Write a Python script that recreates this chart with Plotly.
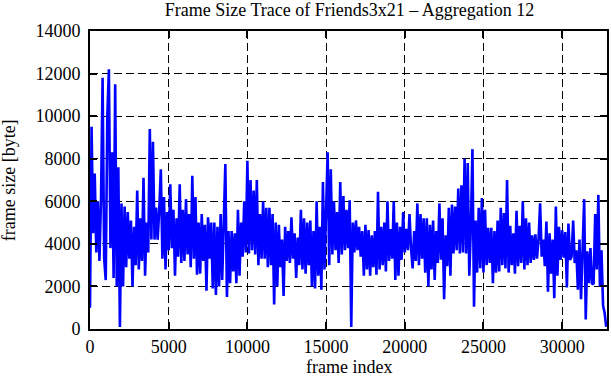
import plotly.graph_objects as go

# Frame size trace (Friends 3x21, aggregation 12)
# one value per 100 frames
frame_step = 100
sizes = [
    # 0-1000
    1000, 9500, 4500, 7300, 3600, 6000, 3200, 6100, 11800, 3300,
    # 1000-2000
    2300, 10000, 12200, 3800, 8300, 2400, 11500, 2000, 7600, 100,
    # 2000-3000
    5900, 2000, 5750, 2900, 5500, 3300, 5100, 2000, 4800, 3000,
    # 3000-4000
    6500, 2800, 5200, 3200, 7100, 2500, 5000, 3600, 9400, 4200,
    # 4000-5000
    8800, 4200, 5700, 4200, 5600, 7500, 3300, 6200, 2800, 5500,
    # 5000-6000
    3700, 6800, 3800, 5600, 2500, 5200, 3400, 6800, 3100, 5600,
    # 6000-7000
    3200, 6100, 3500, 5400, 2900, 7200, 3300, 6200, 2550, 5000,
    # 7000-8000
    2600, 5400, 3200, 4900, 1800, 5250, 3300, 5000, 1900, 5000,
    # 8000-9000
    1600, 4800, 2000, 5400, 2300, 4700, 7750, 1500, 4600, 2150,
    # 9000-10000
    4600, 2700, 4500, 2150, 5600, 2500, 5000, 3400, 6000, 3600,
    # 10000-11000
    7900, 3550, 7000, 3700, 6500, 3500, 7000, 3000, 5400, 3300,
    # 11000-12000
    6000, 3300, 5700, 2900, 5700, 3000, 5400, 1150, 5000, 2000,
    # 12000-13000
    4900, 2900, 4200, 1550, 4800, 3200, 4600, 3100, 5250, 3300,
    # 13000-14000
    4500, 2400, 4300, 3000, 5600, 2800, 5200, 2600, 5000, 3000,
    # 14000-15000
    5100, 2000, 4600, 1900, 6000, 2500, 4800, 1850, 6900, 2800,
    # 15000-16000
    6000, 8300, 3000, 7500, 3500, 6000, 3700, 5500, 3100, 6900,
    # 16000-17000
    3500, 6250, 3700, 5600, 3800, 6050, 100, 5000, 3600, 5100,
    # 17000-18000
    3700, 4800, 3400, 4600, 2500, 4900, 2800, 4650, 2500, 4400,
    # 18000-19000
    2900, 4600, 2550, 6450, 2800, 4800, 3000, 5000, 2700, 6000,
    # 19000-20000
    3200, 4700, 3300, 6000, 2300, 5000, 2500, 4800, 3250, 5500,
    # 20000-21000
    3600, 4700, 3700, 5400, 3800, 2850, 4600, 3200, 5900, 3000,
    # 21000-22000
    5400, 3300, 5200, 2650, 5200, 2000, 4900, 2800, 5100, 2300,
    # 22000-23000
    4600, 3100, 5900, 3250, 5200, 1400, 4400, 2950, 5700, 2500,
    # 23000-24000
    5850, 3550, 5750, 3700, 6600, 3550, 6750, 3600, 8000, 3550,
    # 24000-25000
    7800, 2500, 4800, 8450, 1050, 5100, 2650, 5700, 2850, 6150,
    # 25000-26000
    2650, 5600, 3000, 4750, 3100, 4750, 2150, 4600, 2650, 5100,
    # 26000-27000
    2700, 5700, 3000, 5450, 2850, 7000, 2650, 4850, 3000, 4500,
    # 27000-28000
    2600, 5550, 2950, 4850, 3100, 6000, 2800, 5200, 3000, 5000,
    # 28000-29000
    3100, 4400, 3250, 4450, 3300, 4200, 5900, 3400, 4200, 2950,
    # 29000-30000
    5050, 1750, 4500, 2600, 4200, 1450, 5750, 2500, 4800, 3250,
    # 30000-31000
    4650, 3350, 4550, 1950, 4950, 3250, 3400, 5100, 3100, 3700,
    # 31000-32000
    1850, 4200, 1400, 3800, 6100, 450, 3650, 2150, 3800, 2100,
    # 32000-32800
    2150, 5400, 2800, 6300, 2000, 3700, 1100, 750, 100,
]
frame_index = [i * frame_step for i in range(len(sizes))]

x_ticks = [0, 5000, 10000, 15000, 20000, 25000, 30000]
y_ticks = [0, 2000, 4000, 6000, 8000, 10000, 12000, 14000]
x_max = 32850
y_max = 14000

title_text = "Frame Size Trace of Friends3x21 \u2013 Aggregation 12"
x_label = "frame index"
y_label = "frame size [byte]"

FONT = "Liberation Serif"

fig = go.Figure()
fig.add_trace(go.Scatter(
    x=frame_index, y=sizes, mode="lines",
    line=dict(color="#0000ff", width=2.6),
    hoverinfo="skip", showlegend=False,
))

axis_common = dict(
    showline=True, linecolor="black", linewidth=2, mirror="allticks",
    ticks="inside", ticklen=7, tickwidth=1.5, tickcolor="black",
    showgrid=True, gridcolor="black", gridwidth=1, griddash="8px,4px",
    zeroline=False,
    tickfont=dict(family=FONT, size=18, color="black"),
)

fig.update_layout(
    width=611, height=380,
    margin=dict(l=90, r=2, t=31, b=51),
    paper_bgcolor="white", plot_bgcolor="white",
    font=dict(family=FONT, size=18, color="black"),
    title=dict(text=title_text, x=349.5 / 611, xanchor="center",
               y=1 - 10 / 380, yanchor="middle", yref="container",
               font=dict(family=FONT, size=18, color="black")),
    xaxis=dict(range=[0, x_max], tickvals=x_ticks,
               ticktext=[str(v) for v in x_ticks], **axis_common),
    yaxis=dict(range=[0, y_max], tickvals=y_ticks,
               ticktext=[str(v) for v in y_ticks], ticklabelstandoff=4,
               **axis_common),
    annotations=[
        dict(text=x_label, xref="paper", yref="paper", x=0.5, y=-38 / 298,
             xanchor="center", yanchor="middle", showarrow=False,
             font=dict(family=FONT, size=18, color="black")),
        dict(text=y_label, xref="paper", yref="paper", x=-81 / 519, y=0.5,
             xanchor="center", yanchor="middle", textangle=-90, showarrow=False,
             font=dict(family=FONT, size=18, color="black")),
    ],
)

fig.write_html("out.html")
